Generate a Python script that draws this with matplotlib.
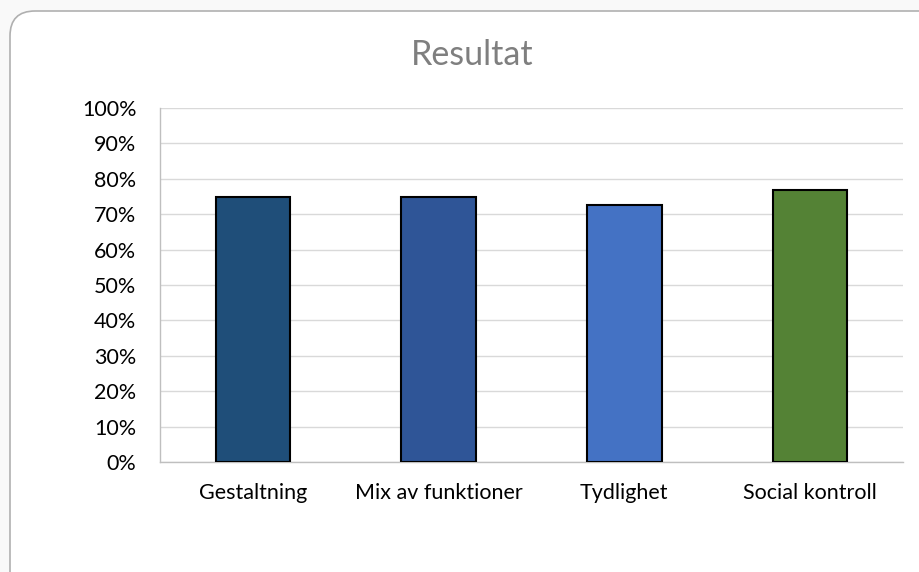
import matplotlib.pyplot as plt
from matplotlib.patches import FancyBboxPatch
from matplotlib.ticker import PercentFormatter

categories = ['Gestaltning', 'Mix av funktioner', 'Tydlighet', 'Social kontroll']
values = [75, 75, 72.7, 76.8]
colors = ['#1F4E79', '#2F5597', '#4472C4', '#548235']
yticks = [0, 10, 20, 30, 40, 50, 60, 70, 80, 90, 100]

plt.rcParams['font.family'] = ['Lato', 'DejaVu Sans']

fig = plt.figure(figsize=(9.19, 5.72), dpi=100)
fig.patch.set_facecolor('#f9f9f9')

# rounded chart frame (inches), running off the right and bottom edges
box = FancyBboxPatch((0.10, -0.25), 9.4, 5.86,
                     boxstyle='round,pad=0,rounding_size=0.25',
                     transform=fig.dpi_scale_trans, facecolor='white',
                     edgecolor='#b0b0b0', linewidth=1.2, zorder=0)
fig.patches.append(box)

ax = fig.add_axes([160 / 919, 110 / 572, 743 / 919, 354 / 572])
ax.set_zorder(2)
ax.set_facecolor('none')

x = range(len(categories))
ax.bar(x, values, width=0.40, color=colors, edgecolor='black', linewidth=1.5, zorder=3)

ax.set_ylim(0, 100)
ax.set_xlim(-0.5, len(categories) - 0.5)
ax.set_yticks(yticks)
ax.yaxis.set_major_formatter(PercentFormatter(decimals=0))
ax.set_xticks(list(x))
ax.set_xticklabels(categories)
ax.tick_params(axis='both', length=0, labelsize=15.5, colors='black')
ax.tick_params(axis='x', pad=15)
ax.tick_params(axis='y', pad=17)
ax.grid(axis='y', color='#d9d9d9', linewidth=1, zorder=0)

for side in ['top', 'right']:
    ax.spines[side].set_visible(False)
for side in ['left', 'bottom']:
    ax.spines[side].set_color('#bfbfbf')
    ax.spines[side].set_linewidth(1)

fig.text(472 / 919, 1 - 55 / 572, 'Resultat', ha='center', va='center',
         fontsize=24.5, color='#7f7f7f', zorder=3)

fig.savefig('out.png', dpi=100, facecolor=fig.get_facecolor())
